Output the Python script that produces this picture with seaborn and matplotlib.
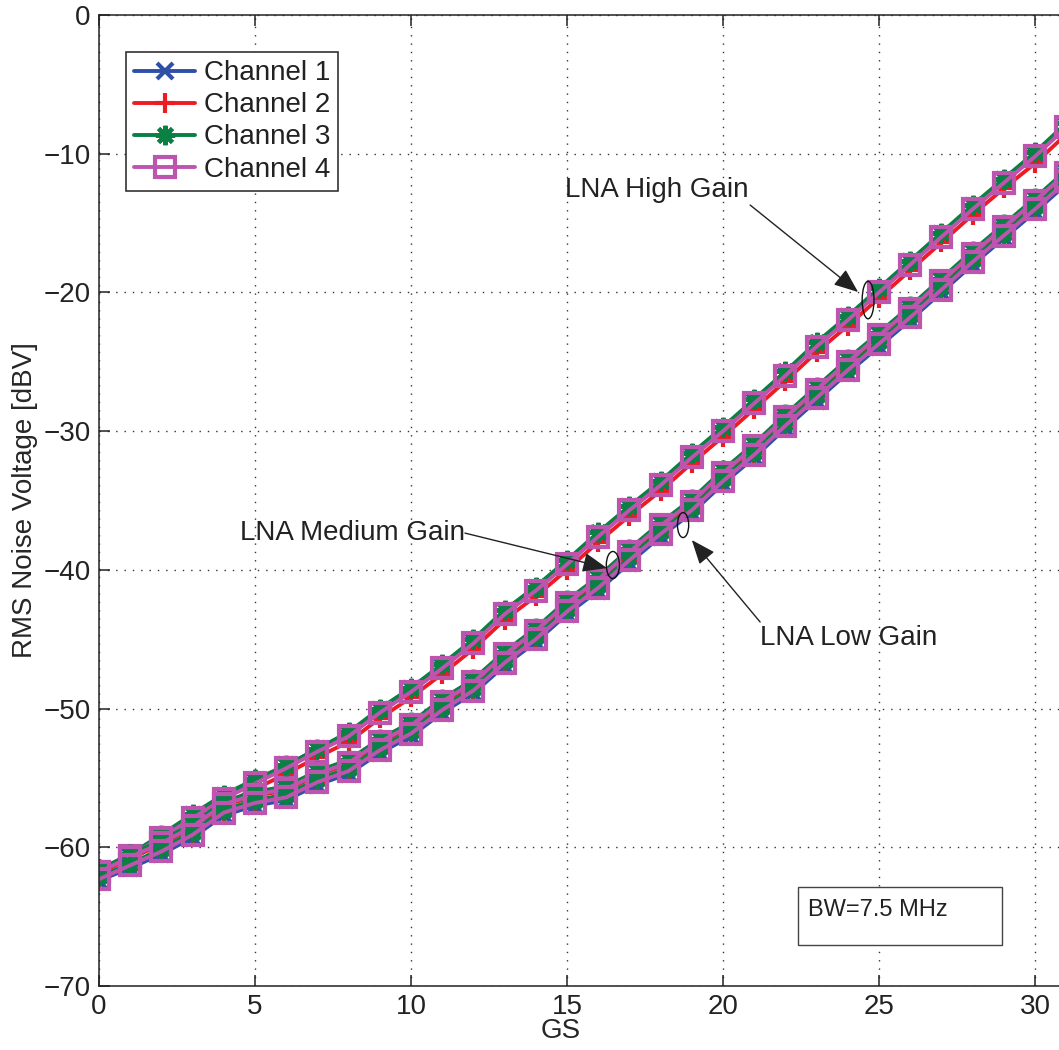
import numpy as np
import pandas as pd
import matplotlib
matplotlib.use("Agg")
import matplotlib.pyplot as plt
from matplotlib.patches import Ellipse, Rectangle
from matplotlib.lines import Line2D
import seaborn as sns

# ---- data: RMS noise voltage [dBV] versus gain setting (GS) ----
gs = list(range(0, 32))

high_ch1 = [-61.7, -60.5, -59.2, -57.7, -56.3, -55.2, -54.1, -52.9, -51.8, -50.1, -48.6, -46.9, -45.1, -43.0, -41.3, -39.4,
            -37.4, -35.5, -33.7, -31.7, -29.8, -27.8, -25.8, -23.7, -21.8, -19.8, -17.8, -15.8, -13.8, -11.9, -10.0, -7.9]
high_ch2 = [-61.6, -60.9, -59.6, -58.3, -56.9, -55.8, -54.7, -53.5, -52.4, -50.7, -49.2, -47.5, -45.7, -43.6, -41.9, -40.0,
            -38.0, -36.1, -34.3, -32.3, -30.4, -28.4, -26.4, -24.3, -22.4, -20.4, -18.4, -16.4, -14.4, -12.5, -10.7, -8.6]
high_ch3 = [-62.0, -60.5, -59.1, -57.6, -56.2, -55.1, -54.1, -52.9, -51.7, -50.0, -48.5, -46.8, -45.0, -42.9, -41.2, -39.3,
            -37.3, -35.4, -33.6, -31.6, -29.7, -27.7, -25.7, -23.6, -21.7, -19.7, -17.7, -15.7, -13.7, -11.8, -9.9, -7.8]
high_ch4 = [-61.8, -60.6, -59.3, -57.9, -56.5, -55.4, -54.3, -53.1, -52.0, -50.3, -48.8, -47.1, -45.3, -43.2, -41.5, -39.6,
            -37.6, -35.7, -33.9, -31.9, -30.0, -28.0, -26.0, -23.9, -22.0, -20.0, -18.0, -16.0, -14.0, -12.1, -10.2, -8.1]

med_ch1 = [-61.7, -60.6, -59.6, -58.4, -56.8, -56.1, -55.7, -54.6, -53.8, -52.3, -51.1, -49.4, -48.0, -46.0, -44.3, -42.3,
           -40.6, -38.6, -36.7, -35.0, -32.9, -31.0, -28.9, -26.9, -24.9, -23.0, -21.1, -19.1, -17.1, -15.2, -13.3, -11.3]
med_ch2 = [-61.9, -60.8, -59.8, -58.6, -57.0, -56.3, -55.9, -54.8, -54.0, -52.5, -51.3, -49.6, -48.2, -46.2, -44.5, -42.5,
           -40.8, -38.8, -36.9, -35.2, -33.1, -31.2, -29.1, -27.1, -25.1, -23.2, -21.3, -19.3, -17.3, -15.4, -13.5, -11.5]
med_ch3 = [-61.6, -60.5, -59.5, -58.3, -56.7, -56.0, -55.6, -54.5, -53.7, -52.2, -51.0, -49.3, -47.9, -45.9, -44.2, -42.2,
           -40.5, -38.5, -36.6, -34.9, -32.8, -30.9, -28.8, -26.8, -24.8, -22.9, -21.0, -19.0, -17.0, -15.1, -13.2, -11.2]
med_ch4 = [-61.8, -60.7, -59.7, -58.5, -56.9, -56.2, -55.8, -54.7, -53.9, -52.4, -51.2, -49.5, -48.1, -46.1, -44.4, -42.4,
           -40.7, -38.7, -36.8, -35.1, -33.0, -31.1, -29.0, -27.0, -25.0, -23.1, -21.2, -19.2, -17.2, -15.3, -13.4, -11.4]

low_ch1 = [-62.4, -61.5, -60.5, -59.3, -57.7, -57.0, -56.6, -55.5, -54.7, -53.2, -52.0, -50.3, -48.9, -46.9, -45.2, -43.2,
           -41.5, -39.5, -37.6, -35.9, -33.8, -31.9, -29.8, -27.8, -25.8, -23.9, -22.0, -20.0, -18.0, -16.1, -14.2, -12.2]
low_ch2 = [-62.2, -61.2, -60.2, -59.0, -57.4, -56.7, -56.3, -55.2, -54.4, -52.9, -51.7, -50.0, -48.6, -46.6, -44.9, -42.9,
           -41.2, -39.2, -37.3, -35.6, -33.5, -31.6, -29.5, -27.5, -25.5, -23.6, -21.7, -19.7, -17.7, -15.8, -13.9, -11.9]
low_ch3 = [-62.1, -61.2, -60.1, -58.9, -57.3, -56.6, -56.2, -55.1, -54.3, -52.8, -51.6, -49.9, -48.5, -46.5, -44.8, -42.8,
           -41.1, -39.1, -37.2, -35.5, -33.4, -31.5, -29.4, -27.4, -25.4, -23.5, -21.6, -19.6, -17.6, -15.7, -13.8, -11.8]
low_ch4 = [-62.3, -61.3, -60.3, -59.1, -57.5, -56.8, -56.4, -55.3, -54.5, -53.0, -51.8, -50.1, -48.7, -46.7, -45.0, -43.0,
           -41.3, -39.3, -37.4, -35.7, -33.6, -31.7, -29.6, -27.6, -25.6, -23.7, -21.8, -19.8, -17.8, -15.9, -14.0, -12.0]

channels = ["Channel 1", "Channel 2", "Channel 3", "Channel 4"]
gains = ["High", "Medium", "Low"]
series = {
    "High": [high_ch1, high_ch2, high_ch3, high_ch4],
    "Medium": [med_ch1, med_ch2, med_ch3, med_ch4],
    "Low": [low_ch1, low_ch2, low_ch3, low_ch4],
}

rows = []
for g in gains:
    for ch, vals in zip(channels, series[g]):
        for x, v in zip(gs, vals):
            rows.append({"GS": x, "Noise": v, "Channel": ch, "Gain": g})
df = pd.DataFrame(rows)

# ---- styling ----
sns.set_theme(style="ticks")
plt.rcParams["font.family"] = ["Liberation Sans", "DejaVu Sans"]
plt.rcParams["font.size"] = 20
plt.rcParams["axes.edgecolor"] = "#222222"
plt.rcParams["axes.linewidth"] = 1.1
plt.rcParams["xtick.color"] = "#222222"
plt.rcParams["ytick.color"] = "#222222"
plt.rcParams["text.color"] = "#222222"

colors = {"Channel 1": "#3050A8", "Channel 2": "#EC1C24",
          "Channel 3": "#0A8044", "Channel 4": "#BD55AE"}
markers = {"Channel 1": "x", "Channel 2": "+",
           "Channel 3": (8, 2, 0), "Channel 4": "s"}
msizes = {"Channel 1": 12, "Channel 2": 15, "Channel 3": 14, "Channel 4": 14}
mew = 3.0
lw = 2.8

fig = plt.figure(figsize=(10.59, 10.50), dpi=100)
# axes runs past the right edge of the figure
ax = fig.add_axes([99 / 1059, 64 / 1050, 998.4 / 1059, 971 / 1050])

for g in gains:
    for ch in channels:
        sub = df[(df["Gain"] == g) & (df["Channel"] == ch)]
        sns.lineplot(data=sub, x="GS", y="Noise", ax=ax, color=colors[ch],
                     marker=markers[ch], markersize=msizes[ch],
                     markeredgecolor=colors[ch], markerfacecolor="none",
                     markeredgewidth=mew, linewidth=lw, estimator=None,
                     sort=False, legend=False)

ax.set_xlim(0, 32)
ax.set_ylim(-70, 0)
ax.set_xticks([0, 5, 10, 15, 20, 25, 30])
ax.set_yticks([-70, -60, -50, -40, -30, -20, -10, 0])
ax.tick_params(direction="in", length=8, width=1.1, labelsize=20,
               top=True, right=True, pad=6)
ax.grid(True, linestyle=(0, (1, 5)), color="#333333", linewidth=1.0)
ax.set_xlabel("GS", fontsize=20, labelpad=0)
ax.set_ylabel("RMS Noise Voltage [dBV]", fontsize=20)
ax.xaxis.set_label_coords(14.8 / 32, -0.033)
ax.yaxis.set_label_coords(-0.061, 0.5)

# legend
handles = [Line2D([0], [0], color=colors[ch], marker=markers[ch],
                  markersize=msizes[ch], markeredgecolor=colors[ch],
                  markerfacecolor="none", markeredgewidth=mew, linewidth=lw)
           for ch in channels]
leg = ax.legend(handles, channels, loc="upper left",
                bbox_to_anchor=(0.027, 0.962), borderaxespad=0,
                fontsize=20, frameon=True, fancybox=False, framealpha=1,
                edgecolor="#222222", handlelength=2.2, handletextpad=0.3,
                labelspacing=0.22, borderpad=0.3)
leg.get_frame().set_linewidth(1.1)

# gain annotations
arrow = dict(arrowstyle="-|>,head_length=0.75,head_width=0.3",
             color="#222222", lw=1.0, shrinkA=0, shrinkB=0)
ax.text(14.93, -12.6, "LNA High Gain", fontsize=20, ha="left", va="center")
ax.annotate("", xy=(24.33, -19.97), xytext=(20.87, -13.7), arrowprops=arrow)
ax.text(4.52, -37.35, "LNA Medium Gain", fontsize=20, ha="left", va="center")
ax.annotate("", xy=(16.28, -39.87), xytext=(11.73, -37.35), arrowprops=arrow)
ax.text(21.19, -44.92, "LNA Low Gain", fontsize=20, ha="left", va="center")
ax.annotate("", xy=(19.0, -37.85), xytext=(21.19, -43.76), arrowprops=arrow)

for cx, cy, w, h in [(24.65, -20.55, 0.38, 2.7),
                     (16.47, -39.65, 0.42, 1.95),
                     (18.72, -36.77, 0.36, 1.8)]:
    ax.add_patch(Ellipse((cx, cy), w, h, fill=False, ec="#111111",
                         lw=1.0, zorder=5))

# bandwidth note
ax.add_patch(Rectangle((0.700, 0.0422), 0.2045, 0.0598,
                       transform=ax.transAxes, fill=True, fc="white",
                       ec="#444444", lw=1.0, zorder=6))
ax.text(0.710, 0.0783, "BW=7.5 MHz", transform=ax.transAxes,
        fontsize=17, ha="left", va="center", zorder=7)

fig.savefig("out.png", dpi=100)
